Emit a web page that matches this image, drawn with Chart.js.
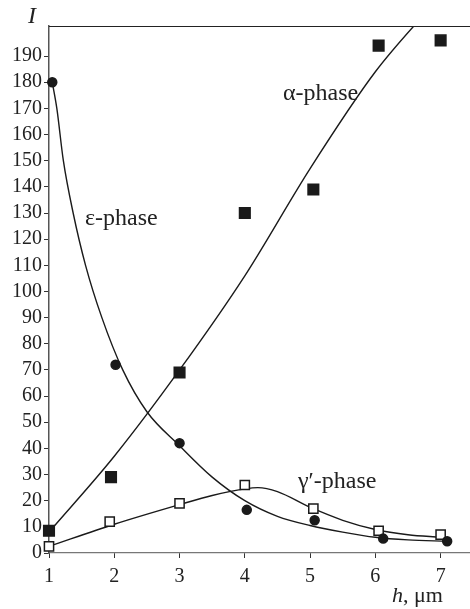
<!DOCTYPE html>
<html>
<head>
<meta charset="utf-8">
<script src="https://cdn.jsdelivr.net/npm/chart.js@4/dist/chart.umd.min.js"></script>
<style>
  html, body { margin: 0; padding: 0; background: #fff; }
  #wrap { width: 470px; height: 609px; }
</style>
</head>
<body>
<div id="wrap"><canvas id="chart" width="470" height="609"></canvas></div>
<script>
// measured points
const alphaX = [1, 1.95, 3, 4, 5.05, 6.05, 7];
const alphaI = [8.5, 29, 69, 130, 139, 194, 196];
const epsX = [1.05, 2.02, 3, 4.03, 5.07, 6.12, 7.1];
const epsI = [180, 72, 42, 16.5, 12.5, 5.5, 4.5];
const gammaX = [1, 1.93, 3, 4, 5.05, 6.05, 7];
const gammaI = [2.5, 12, 19, 26, 17, 8.5, 7];

// fitted curves
const alphaFitX = [1, 2, 3, 4, 5, 6, 7];
const alphaFitI = [8, 37, 70, 106, 147, 184, 213];
const epsFitX = [1.05, 1.12, 1.22, 1.37, 1.56, 1.81, 2.13, 2.5, 3, 3.5, 4, 4.5, 5, 5.5, 6, 6.5, 7.1];
const epsFitI = [180, 170, 150, 130, 110, 90, 70, 54, 41, 29, 20, 14, 10.5, 8, 6, 5, 4.5];
const gammaFitX = [1, 2, 3, 3.5, 4, 4.2, 4.5, 5, 5.5, 6, 6.5, 7];
const gammaFitI = [2.5, 11, 18.5, 22, 24.5, 25, 23.5, 17.5, 12.5, 9, 7, 6];

const xTicks = [1, 2, 3, 4, 5, 6, 7];
const yTicks = [0, 10, 20, 30, 40, 50, 60, 70, 80, 90, 100, 110, 120, 130, 140, 150, 160, 170, 180, 190];

const labels = [
  { text: "α-phase", x: 283, y: 100 },
  { text: "ε-phase", x: 85, y: 225 },
  { text: "γ′-phase", x: 298, y: 488 },
];

const toPts = (xs, ys) => xs.map((x, i) => ({ x: x, y: ys[i] }));

const ink = "#1a1a1a";
const serif = "'Liberation Serif', 'DejaVu Serif', serif";
Chart.defaults.font.family = serif;
Chart.defaults.color = "#222";

const curve = (xs, ys) => ({
  data: toPts(xs, ys),
  showLine: true,
  borderColor: ink,
  borderWidth: 1.4,
  pointRadius: 0,
  cubicInterpolationMode: "monotone",
  order: 2,
});

const marks = (xs, ys, style, fill, r) => ({
  data: toPts(xs, ys),
  showLine: false,
  pointStyle: style,
  pointRadius: r,
  pointHoverRadius: r,
  backgroundColor: fill,
  borderColor: ink,
  borderWidth: 1.5,
  order: 0,
  clip: false,
});

const annotations = {
  id: "annotations",
  afterDraw(chart) {
    const { ctx, chartArea } = chart;
    ctx.save();
    // top frame line
    ctx.strokeStyle = "#222";
    ctx.lineWidth = 1.2;
    ctx.beginPath();
    ctx.moveTo(chartArea.left, chartArea.top + 0.5);
    ctx.lineTo(chartArea.right, chartArea.top + 0.5);
    ctx.stroke();

    ctx.fillStyle = "#222";
    ctx.textBaseline = "alphabetic";
    ctx.font = "24px " + serif;
    for (const l of labels) ctx.fillText(l.text, l.x, l.y);

    ctx.font = "italic 24px " + serif;
    ctx.fillText("I", 28, 23);

    ctx.font = "italic 22px " + serif;
    ctx.fillText("h", 392, 602);
    const w = ctx.measureText("h").width;
    ctx.font = "22px " + serif;
    ctx.fillText(", μm", 392 + w, 602);
    ctx.restore();
  },
};

new Chart(document.getElementById("chart"), {
  type: "scatter",
  data: {
    datasets: [
      curve(alphaFitX, alphaFitI),
      curve(epsFitX, epsFitI),
      curve(gammaFitX, gammaFitI),
      marks(alphaX, alphaI, "rect", ink, 7.5),
      marks(epsX, epsI, "circle", ink, 4.5),
      marks(gammaX, gammaI, "rect", "#fff", 6.5),
    ],
  },
  options: {
    responsive: false,
    animation: false,
    events: [],
    layout: { autoPadding: false, padding: { top: 26, right: 0, left: 0, bottom: 0 } },
    plugins: { legend: { display: false }, tooltip: { enabled: false } },
    scales: {
      x: {
        type: "linear",
        min: 1,
        max: 7.45,
        afterBuildTicks: (s) => { s.ticks = xTicks.map((v) => ({ value: v })); },
        afterFit: (s) => { s.height = 56; },
        border: { color: "#777", width: 1.2 },
        grid: { drawOnChartArea: false, tickLength: 5, color: "#333" },
        ticks: { font: { size: 20 }, color: "#222", padding: 7, maxRotation: 0 },
      },
      y: {
        type: "linear",
        min: 0,
        max: 201.5,
        afterBuildTicks: (s) => { s.ticks = yTicks.map((v) => ({ value: v })); },
        afterFit: (s) => { s.width = 49; },
        border: { color: "#555", width: 1.5 },
        grid: { drawOnChartArea: false, tickLength: 5, color: "#333" },
        ticks: { font: { size: 20 }, color: "#222", padding: 2 },
      },
    },
  },
  plugins: [annotations],
});
</script>
</body>
</html>
